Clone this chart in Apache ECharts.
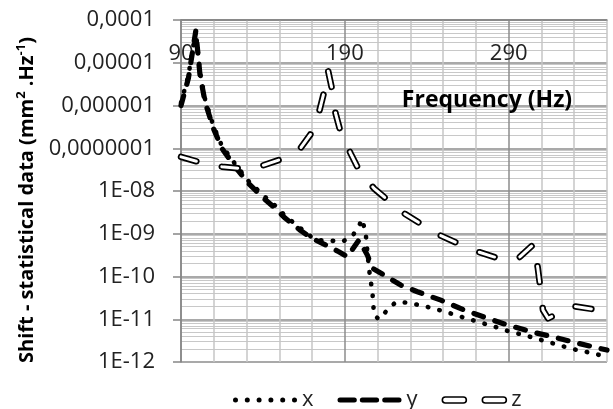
<!DOCTYPE html>
<html>
<head>
<meta charset="utf-8">
<script src="https://cdn.jsdelivr.net/npm/echarts@6/dist/echarts.min.js"></script>
<style>
html,body{margin:0;padding:0;background:#fff;}
#c{width:613px;height:409px;}
</style>
</head>
<body>
<div id="c"></div>
<script>
// ---- data ----
const seriesNames = ['x', 'y', 'z'];
const xTickLabels = ['90', '190', '290'];
const yTickExps = [-12, -11, -10, -9, -8, -7, -6, -5, -4];
const yTickLabels = ['1E-12', '1E-11', '1E-10', '1E-09', '1E-08', '0,0000001', '0,000001', '0,00001', '0,0001'];

const xFreq = [90, 94.5, 99, 101.6, 104.7, 109.8, 114.9, 123, 131.2, 140.4, 147.6, 153.7, 162.9, 170, 174.1, 181.2, 188.4, 194.6, 198.4, 200.5, 202.7, 204.7, 205.7, 206.8, 207.3, 207.8, 210.8, 216, 221, 228.2, 235.3, 242.5, 249.6, 256.6, 263.3, 270.6, 277.4, 284.3, 291.5, 298.2, 305.1, 311.9, 319, 326.2, 333.1, 340, 347.2, 350];
const xVals = [1.15e-6, 5e-6, 5.5e-5, 6e-6, 1.4e-6, 3.3e-7, 1.15e-7, 4.3e-8, 1.7e-8, 7.8e-9, 4.5e-9, 2.6e-9, 1.35e-9, 8.2e-10, 7.1e-10, 6.9e-10, 6.5e-10, 8.9e-10, 1.45e-9, 2.2e-9, 1.05e-9, 1.56e-10, 8.3e-11, 4.4e-11, 2.4e-11, 1.26e-11, 1.0e-11, 1.65e-11, 2.5e-11, 2.45e-11, 2.15e-11, 1.85e-11, 1.56e-11, 1.29e-11, 1.07e-11, 8.9e-12, 7.4e-12, 6.2e-12, 5.0e-12, 4.4e-12, 3.7e-12, 3.1e-12, 2.6e-12, 2.15e-12, 1.85e-12, 1.65e-12, 1.4e-12, 1.35e-12];

const yFreq = [90, 94.5, 99, 101.6, 104.7, 109.8, 114.9, 123, 131.2, 140.4, 147.6, 153.7, 162.9, 170, 178.2, 186.3, 191.5, 198.6, 203.7, 206.8, 213.9, 224.1, 234.3, 248.6, 262.9, 277.2, 289.4, 303.7, 318, 332.3, 350];
const yVals = [1e-6, 4.3e-6, 5.5e-5, 5.2e-6, 1.2e-6, 2.9e-7, 1e-7, 3.7e-8, 1.5e-8, 6.8e-9, 3.9e-9, 2.3e-9, 1.2e-9, 7.8e-10, 5.5e-10, 3.8e-10, 2.9e-10, 7.1e-10, 3.2e-10, 1.56e-10, 1.08e-10, 6.3e-11, 4.4e-11, 2.8e-11, 1.64e-11, 1.05e-11, 7.3e-12, 5.1e-12, 3.8e-12, 2.75e-12, 1.9e-12];

const zFreq = [90, 100.6, 107.8, 114.9, 125.1, 132.3, 139.4, 149.6, 156.7, 162.9, 169, 174.1, 177.1, 179.7, 182.3, 184.3, 187.4, 193.5, 198.6, 207.8, 216, 226.1, 236.4, 247.6, 258.8, 271.1, 283.3, 290.2, 296.5, 305.5, 307.8, 309.4, 310.9, 314, 319, 330.2, 342.5, 350];
const zVals = [6.3e-8, 4.8e-8, 4.3e-8, 3.7e-8, 3.4e-8, 3.5e-8, 3.9e-8, 5.3e-8, 6.9e-8, 1e-7, 2.1e-7, 6.6e-7, 1.9e-6, 6.7e-6, 2.3e-6, 6.6e-7, 2.4e-7, 7.6e-8, 3.1e-8, 1.15e-8, 6.2e-9, 3.0e-9, 1.7e-9, 9.4e-10, 6.0e-10, 3.8e-10, 2.7e-10, 2.45e-10, 2.8e-10, 5.8e-10, 1.55e-10, 5.2e-11, 1.65e-11, 1.05e-11, 1.3e-11, 2.0e-11, 1.7e-11, 1.65e-11];

// ---- chart ----
const FONT = '"Open Sans", "Noto Sans", sans-serif';
const pairs = (fs, vs) => fs.map((f, i) => [f, vs[i]]);

function circlePath(cx, cy, r) {
  return 'M' + (cx - r) + ',' + cy + ' a' + r + ',' + r + ' 0 1,0 ' + (2 * r) + ',0 a' + r + ',' + r + ' 0 1,0 ' + (-2 * r) + ',0 Z ';
}
function capsulePath(x0, x1, h) {
  const r = h / 2;
  return 'M' + (x0 + r) + ',0 L' + (x1 - r) + ',0 A' + r + ',' + r + ' 0 0,1 ' + (x1 - r) + ',' + h + ' L' + (x0 + r) + ',' + h + ' A' + r + ',' + r + ' 0 0,1 ' + (x0 + r) + ',0 Z ';
}
let dotsIcon = 'path://';
for (let k = 0; k < 6; k++) dotsIcon += circlePath(2.5 + k * 11.8, 2.5, 2.5);
const dashIcon = 'path://' + capsulePath(0, 19.3, 5) + capsulePath(22.3, 41.6, 5) + capsulePath(44.7, 64, 5);
const hollowIcon = 'path://' + capsulePath(0, 24, 6) + capsulePath(40, 64, 6);

const chart = echarts.init(document.getElementById('c'), null, { renderer: 'canvas' });
const option = {
  animation: false,
  backgroundColor: '#fff',
  grid: { left: 181, right: 6, top: 20, bottom: 47, containLabel: false, outerBoundsMode: 'none' },
  xAxis: {
    type: 'value', position: 'top', min: 90, max: 350, interval: 20,
    axisLine: { show: true, lineStyle: { color: '#868686', width: 1.5 } },
    axisTick: { show: false },
    axisLabel: {
      inside: true, margin: 23, fontFamily: FONT, fontSize: 22, color: '#222',
      showMaxLabel: false, showMinLabel: true,
      formatter: v => (xTickLabels.indexOf(String(v)) >= 0 ? String(v) : '')
    },
    splitLine: { show: true, lineStyle: { color: ['#8c8c8c', '#c6c6c6', '#c6c6c6', '#c6c6c6', '#c6c6c6'], width: 1.5 } }
  },
  yAxis: {
    type: 'log', logBase: 10, min: 1e-12, max: 1e-4,
    axisLine: { show: true, lineStyle: { color: '#868686', width: 1.5 } },
    axisTick: { show: true, inside: false, length: 8, lineStyle: { color: '#868686', width: 1.5 } },
    axisLabel: {
      margin: 26, fontFamily: FONT, fontSize: 22, color: '#222',
      formatter: v => { const e = Math.round(Math.log10(v)); const i = yTickExps.indexOf(e); return i >= 0 ? yTickLabels[i] : ''; }
    },
    splitLine: { show: true, lineStyle: { color: '#8c8c8c', width: 1.5 } },
    minorTick: { show: false, splitNumber: 9 },
    minorSplitLine: { show: true, lineStyle: { color: '#c8c8c8', width: 1 } }
  },
  legend: {
    left: 228, top: 384, itemWidth: 64, itemHeight: 7, itemGap: 24,
    textStyle: { fontFamily: FONT, fontSize: 22, color: '#222' },
    data: [
      { name: seriesNames[0], icon: dotsIcon, itemStyle: { color: '#000', borderWidth: 0 } },
      { name: seriesNames[1], icon: dashIcon, itemStyle: { color: '#000', borderWidth: 0 } },
      { name: seriesNames[2], icon: hollowIcon, itemStyle: { color: '#fff', borderColor: '#000', borderWidth: 1.6 } }
    ]
  },
  graphic: [
    {
      type: 'text', x: 27, y: 200, rotation: Math.PI / 2, z: 100,
      style: {
        text: '{b|Shift - statistical data (mm}{s|2}{b| .Hz}{s|-1}{b|)}',
        align: 'center', verticalAlign: 'middle',
        rich: {
          b: { fontFamily: FONT, fontSize: 20, fontWeight: 'bold', fill: '#000', lineHeight: 24 },
          s: { fontFamily: FONT, fontSize: 13, fontWeight: 'bold', fill: '#000', verticalAlign: 'top', lineHeight: 24 }
        }
      }
    },
    {
      type: 'text', x: 487, y: 100, z: 100,
      style: {
        text: 'Frequency (Hz)', align: 'center', verticalAlign: 'middle',
        fontFamily: FONT, fontSize: 23, fontWeight: 'bold', fill: '#000'
      }
    }
  ],
  series: [
    {
      name: seriesNames[0], type: 'line', data: pairs(xFreq, xVals), symbol: 'none', z: 2,
      lineStyle: { color: '#000', width: 4.6, type: [0.5, 11.3], cap: 'round', join: 'round' }
    },
    {
      name: seriesNames[1], type: 'line', data: pairs(yFreq, yVals), symbol: 'none', z: 3,
      lineStyle: { color: '#000', width: 5.2, type: [10, 12], cap: 'round', join: 'round' }
    },
    {
      name: seriesNames[2], type: 'line', data: pairs(zFreq, zVals), symbol: 'none', z: 4,
      lineStyle: { color: '#000', width: 6.5, type: [16, 26], cap: 'round', join: 'round' }
    },
    {
      name: 'z-inner', type: 'line', data: pairs(zFreq, zVals), symbol: 'none', z: 5, silent: true,
      lineStyle: { color: '#fff', width: 3, type: [16, 26], cap: 'round', join: 'round' }
    }
  ]
};
chart.setOption(option);
</script>
</body>
</html>
